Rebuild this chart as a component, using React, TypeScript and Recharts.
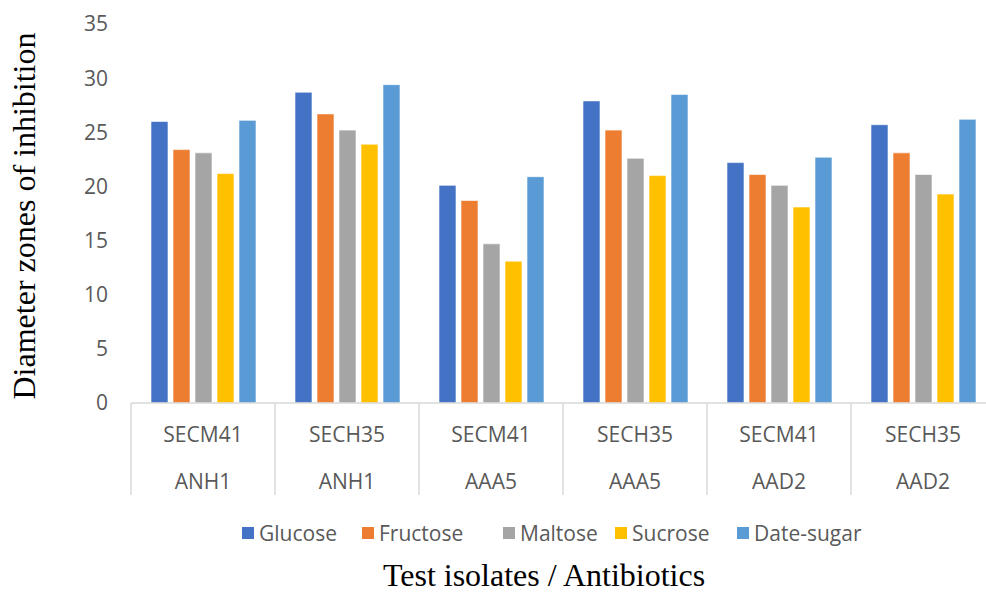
import React from 'react';
import { BarChart, Bar, XAxis, YAxis, Legend } from 'recharts';

// Test isolates (first row) and antibiotics (second row) under each group
const isolates = ['SECM41', 'SECH35', 'SECM41', 'SECH35', 'SECM41', 'SECH35'];
const antibiotics = ['ANH1', 'ANH1', 'AAA5', 'AAA5', 'AAD2', 'AAD2'];

// Diameter of inhibition zones per sugar
const glucose = [26.0, 28.7, 20.1, 27.9, 22.2, 25.7];
const fructose = [23.4, 26.7, 18.7, 25.2, 21.1, 23.1];
const maltose = [23.1, 25.2, 14.7, 22.6, 20.1, 21.1];
const sucrose = [21.2, 23.9, 13.1, 21.0, 18.1, 19.3];
const dateSugar = [26.1, 29.4, 20.9, 28.5, 22.7, 26.2];

const yTicks = [0, 5, 10, 15, 20, 25, 30, 35];

const series = [
  { key: 'glucose', name: 'Glucose', color: '#4472C4' },
  { key: 'fructose', name: 'Fructose', color: '#ED7D31' },
  { key: 'maltose', name: 'Maltose', color: '#A5A5A5' },
  { key: 'sucrose', name: 'Sucrose', color: '#FFC000' },
  { key: 'dateSugar', name: 'Date-sugar', color: '#5B9BD5' },
];

const data = isolates.map((iso, i) => ({
  key: `${iso}|${antibiotics[i]}`,
  glucose: glucose[i],
  fructose: fructose[i],
  maltose: maltose[i],
  sucrose: sucrose[i],
  dateSugar: dateSugar[i],
}));

const SANS = '"Open Sans", "Noto Sans", sans-serif';
const SERIF = '"Liberation Serif", "Times New Roman", serif';
const TEXT_GREY = '#595959';
const LINE_GREY = '#D9D9D9';

// legend swatch left edges
const legendX = [242, 362, 503, 615, 737];

const CategoryTick = (props: any) => {
  const { x, y, payload, index } = props;
  const half = payload && payload.offset ? payload.offset : 72;
  const i = typeof index === 'number' ? index : 0;
  return (
    <g>
      <line x1={x - half} y1={y} x2={x - half} y2={y + 92} stroke={LINE_GREY} strokeWidth={1.5} />
      {i === isolates.length - 1 && (
        <line x1={x + half} y1={y} x2={x + half} y2={y + 92} stroke={LINE_GREY} strokeWidth={1.5} />
      )}
      <text x={x} y={y + 39} textAnchor="middle" fontFamily={SANS} fontSize={21} fill={TEXT_GREY}>
        {isolates[i]}
      </text>
      <text x={x} y={y + 86} textAnchor="middle" fontFamily={SANS} fontSize={21} fill={TEXT_GREY}>
        {antibiotics[i]}
      </text>
    </g>
  );
};

const LegendContent = () => (
  <div style={{ position: 'relative', width: 1000, height: 28 }}>
    {series.map((s, i) => (
      <div
        key={s.key}
        style={{
          position: 'absolute',
          left: legendX[i],
          top: 0,
          display: 'flex',
          alignItems: 'center',
          height: 28,
          whiteSpace: 'nowrap',
        }}
      >
        <span style={{ display: 'inline-block', width: 12, height: 12, background: s.color, marginRight: 5 }} />
        <span style={{ fontFamily: SANS, fontSize: 21, color: TEXT_GREY, lineHeight: '28px' }}>{s.name}</span>
      </div>
    ))}
  </div>
);

export default function App() {
  return (
    <div style={{ position: 'absolute', left: 0, top: 0, width: 986, height: 594, overflow: 'hidden', background: '#fff' }}>
      <BarChart
        width={1000}
        height={594}
        data={data}
        margin={{ top: 24, right: 5, left: 0, bottom: 0 }}
        barSize={17}
        barGap={5}
      >
        <XAxis
          dataKey="key"
          height={191}
          interval={0}
          tickLine={false}
          tickSize={0}
          tickMargin={0}
          axisLine={{ stroke: LINE_GREY, strokeWidth: 1.5 }}
          tick={<CategoryTick />}
          label={() => (
            <text x={544} y={586} textAnchor="middle" fontFamily={SERIF} fontSize={32} fill="#000">
              Test isolates / Antibiotics
            </text>
          )}
        />
        <YAxis
          width={131}
          domain={[0, 35]}
          ticks={yTicks}
          interval={0}
          axisLine={false}
          tickLine={false}
          tickSize={0}
          tickMargin={23}
          tick={{ fontFamily: SANS, fontSize: 21, fill: TEXT_GREY }}
          label={() => (
            <text
              x={35}
              y={216}
              textAnchor="middle"
              fontFamily={SERIF}
              fontSize={32}
              fill="#000"
              transform="rotate(-90, 35, 216)"
            >
              Diameter zones of inhibition
            </text>
          )}
        />
        <Legend
          layout="horizontal"
          verticalAlign="middle"
          align="center"
          wrapperStyle={{ position: 'absolute', top: 519, left: 0, width: 1000, height: 28 }}
          content={<LegendContent />}
        />
        {series.map((s) => (
          <Bar
            key={s.key}
            dataKey={s.key}
            name={s.name}
            fill={s.color}
            stroke="#ffffff"
            strokeWidth={0.6}
            isAnimationActive={false}
          />
        ))}
      </BarChart>
    </div>
  );
}
